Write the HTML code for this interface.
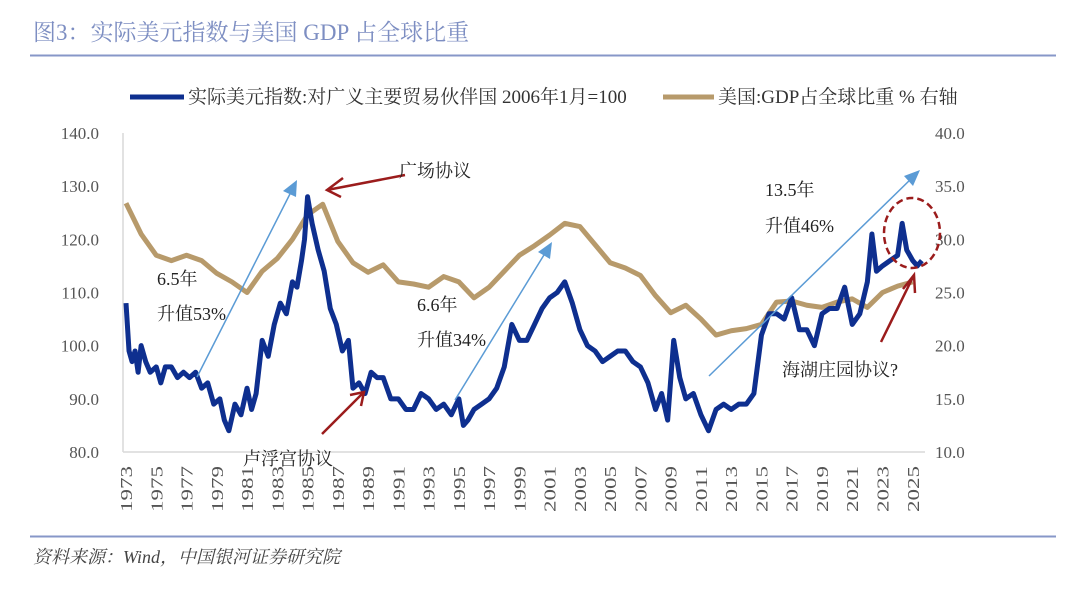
<!DOCTYPE html>
<html><head><meta charset="utf-8">
<style>
body{margin:0;background:#fff;width:1080px;height:596px;overflow:hidden;font-family:"Liberation Serif","Noto Serif CJK SC",serif}
svg text{font-family:"Liberation Serif","Noto Serif CJK SC",serif}
</style></head>
<body>
<svg id="c" width="1080" height="596" viewBox="0 0 1080 596">
<text x="33" y="40" font-size="23" fill="#7d8ec2">图3：实际美元指数与美国 GDP 占全球比重</text>
<line x1="30" y1="55.5" x2="1056" y2="55.5" stroke="#8797c8" stroke-width="2"/>
<line x1="30" y1="536.5" x2="1056" y2="536.5" stroke="#8797c8" stroke-width="2"/>
<text x="33" y="563" font-size="18" font-style="italic" fill="#444">资料来源：Wind，中国银河证券研究院</text>
<g>
<line x1="130" y1="97" x2="184" y2="97" stroke="#0e2f8f" stroke-width="5"/>
<text x="188" y="103" font-size="19" fill="#333">实际美元指数:对广义主要贸易伙伴国 2006年1月=100</text>
<line x1="663" y1="97" x2="714" y2="97" stroke="#b79a6b" stroke-width="5"/>
<text x="718" y="103" font-size="19" fill="#333">美国:GDP占全球比重 % 右轴</text>
</g>
<g id="axes"></g>
<g id="series"></g>
<g id="ann">
<line x1="197" y1="377" x2="293" y2="188" stroke="#5b9bd5" stroke-width="1.5"/>
<path d="M297,180L283,191L296,197z" fill="#5b9bd5"/>
<line x1="455" y1="400" x2="547" y2="250" stroke="#5b9bd5" stroke-width="1.5"/>
<path d="M552,242L538,252L550,259z" fill="#5b9bd5"/>
<line x1="709" y1="376" x2="914" y2="176" stroke="#5b9bd5" stroke-width="1.5"/>
<path d="M920,170L904,176L913,186z" fill="#5b9bd5"/>
<g stroke="#9b1c1c" stroke-width="2.5" fill="none">
<path d="M405,175L327,190M343,178L327,190L341,197"/>
<path d="M322,434L364,392M350,395L364,392L361,406"/>
<path d="M881,342L914,275M903,289L914,275L915,293"/>
</g>
<ellipse cx="912" cy="233" rx="28" ry="35" fill="none" stroke="#9b1c1c" stroke-width="2.5" stroke-dasharray="7,4"/>
<g font-size="18" fill="#222">
<text x="399" y="177">广场协议</text>
<text x="243" y="465">卢浮宫协议</text>
<text x="157" y="285">6.5年</text>
<text x="157" y="320">升值53%</text>
<text x="417" y="311">6.6年</text>
<text x="417" y="346">升值34%</text>
<text x="765" y="196">13.5年</text>
<text x="765" y="232">升值46%</text>
<text x="782" y="376">海湖庄园协议?</text>
</g>
</g>
</svg>
<script>
const leftTicks=[80,90,100,110,120,130,140];
const rightTicks=[10,15,20,25,30,35,40];
const yearTicks=[1973,1975,1977,1979,1981,1983,1985,1987,1989,1991,1993,1995,1997,1999,2001,2003,2005,2007,2009,2011,2013,2015,2017,2019,2021,2023,2025];
const dollarTimes=[1973,1973.2,1973.4,1973.6,1973.8,1974,1974.3,1974.6,1975,1975.3,1975.6,1976,1976.4,1976.8,1977.2,1977.6,1978,1978.4,1978.8,1979.2,1979.5,1979.8,1980.2,1980.6,1981,1981.3,1981.6,1982,1982.4,1982.8,1983.2,1983.6,1984,1984.3,1984.6,1984.8,1985,1985.3,1985.7,1986.1,1986.5,1986.9,1987.3,1987.7,1988,1988.4,1988.8,1989.2,1989.6,1990,1990.5,1991,1991.5,1992,1992.5,1993,1993.5,1994,1994.5,1995,1995.3,1995.6,1996,1996.5,1997,1997.5,1998,1998.5,1999,1999.5,2000,2000.5,2001,2001.5,2002,2002.5,2003,2003.5,2004,2004.5,2005,2005.5,2006,2006.5,2007,2007.5,2008,2008.4,2008.8,2009.2,2009.6,2010,2010.5,2011,2011.5,2012,2012.5,2013,2013.5,2014,2014.5,2015,2015.5,2016,2016.5,2017,2017.5,2018,2018.5,2019,2019.5,2020,2020.5,2021,2021.5,2022,2022.3,2022.6,2023,2023.5,2024,2024.3,2024.6,2025,2025.3,2025.6];
const dollarValues=[108,99,97,99,95,100,97,95,96,93,96,96,94,95,94,95,92,93,89,90,86,84,89,87,92,88,91,101,98,104,108,106,112,111,116,120,128,123,118,114,107,104,99,101,92,93,91,95,94,94,90,90,88,88,91,90,88,89,87,90,85,86,88,89,90,92,96,104,101,101,104,107,109,110,112,108,103,100,99,97,98,99,99,97,96,93,88,91,86,101,94,90,91,87,84,88,89,88,89,89,91,102,106,106,105,109,103,103,100,106,107,107,111,104,106,112,121,114,115,116,117,123,118,116,115,116];
const gdpYears=[1973,1974,1975,1976,1977,1978,1979,1980,1981,1982,1983,1984,1985,1986,1987,1988,1989,1990,1991,1992,1993,1994,1995,1996,1997,1998,1999,2000,2001,2002,2003,2004,2005,2006,2007,2008,2009,2010,2011,2012,2013,2014,2015,2016,2017,2018,2019,2020,2021,2022,2023,2024,2025];
const gdpValues=[33.4,30.5,28.5,28,28.5,28,26.8,26,25,27,28.2,30,32.3,33.3,29.8,27.8,26.9,27.6,26,25.8,25.5,26.5,26,24.5,25.5,27,28.5,29.4,30.4,31.5,31.2,29.5,27.8,27.3,26.6,24.7,23.1,23.8,22.5,21,21.4,21.6,22,24.1,24.2,23.8,23.6,24.1,24.4,23.6,25,25.6,26];

const X0=123,X1=925,Y0=133,Y1=452;
const xs=y=>126+(y-1973)*15.13;
const yl=v=>Y1-(v-80)/60*(Y1-Y0);
const yr=v=>Y1-(v-10)/30*(Y1-Y0);
const NS='http://www.w3.org/2000/svg';
function mk(p,t,a){const e=document.createElementNS(NS,t);for(const k in a)e.setAttribute(k,a[k]);p.appendChild(e);return e;}
const ax=document.getElementById('axes');
let e=mk(ax,'line',{x1:X0,y1:Y0,x2:X0,y2:Y1,stroke:'#d9d9d9','stroke-width':1.5});


e=mk(ax,'line',{x1:X0,y1:Y1,x2:X1,y2:Y1,stroke:'#d9d9d9','stroke-width':1.5});


leftTicks.forEach(v=>{const t=mk(ax,'text',{x:99,y:yl(v)+6,'text-anchor':'end','font-size':17,fill:'#555'});t.textContent=v.toFixed(1);

});
rightTicks.forEach(v=>{const t=mk(ax,'text',{x:935,y:yr(v)+6,'font-size':17,fill:'#555'});t.textContent=v.toFixed(1);

});
yearTicks.forEach(y=>{const x=xs(y)+6;const t=mk(ax,'text',{x:0,y:0,transform:`translate(${x},466) rotate(-90)`,'text-anchor':'end','font-size':17,fill:'#555',textLength:46,lengthAdjust:'spacingAndGlyphs'});t.textContent=y;

});
const sg=document.getElementById('series');
const gp=mk(sg,'polyline',{points:gdpYears.map((y,i)=>xs(y)+','+yr(gdpValues[i])).join(' '),fill:'none',stroke:'#b79a6b','stroke-width':5,'stroke-linejoin':'round'});


const dp=mk(sg,'polyline',{points:dollarTimes.map((y,i)=>xs(y)+','+yl(dollarValues[i])).join(' '),fill:'none',stroke:'#0e2f8f','stroke-width':5,'stroke-linejoin':'round'});


</script>
</body></html>
